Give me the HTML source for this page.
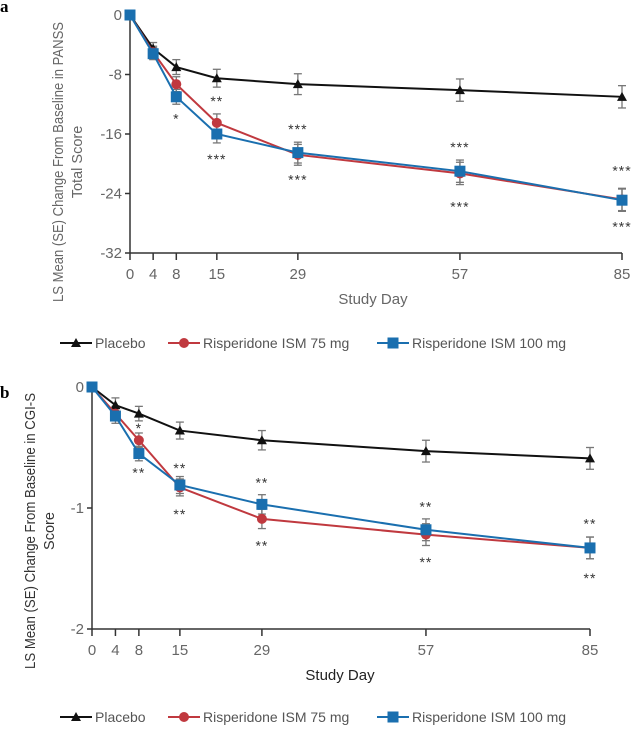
<!DOCTYPE html>
<html><head><meta charset="utf-8">
<style>
body{margin:0;background:#fff;width:632px;height:725px;overflow:hidden}
svg text{font-family:"Liberation Sans",sans-serif}
</style></head>
<body>
<svg id="root" width="632" height="725" viewBox="0 0 632 725">
<text x="0" y="12" font-weight="bold" font-size="17" style="font-family:'Liberation Serif',serif">a</text>
<text x="0" y="398" font-weight="bold" font-size="17" style="font-family:'Liberation Serif',serif">b</text>
<g id="panelA"></g>
<g id="panelB"></g>
</svg>
<script>
const days = [0, 4, 8, 15, 29, 57, 85];
const aPlacebo = [0, -4.5, -7, -8.5, -9.3, -10.1, -11];
const aRisp75 = [0, -5, -9.3, -14.5, -18.8, -21.3, -24.8];
const aRisp100 = [0, -5.2, -11, -16, -18.5, -21, -24.9];
const aErr = [0, 0.8, 1.0, 1.2, 1.4, 1.5, 1.5];
const aTicks = [0, -8, -16, -24, -32];
const aStarDays = [8, 15, 15, 29, 29, 57, 57, 85, 85];
const aStarVals = [-13.8, -11.4, -19.2, -15.2, -22, -17.6, -25.6, -20.8, -28.3];
const aStarText = ["*", "**", "***", "***", "***", "***", "***", "***", "***"];

const bPlacebo = [0, -0.15, -0.22, -0.36, -0.44, -0.53, -0.59];
const bRisp75 = [0, -0.22, -0.44, -0.83, -1.09, -1.22, -1.33];
const bRisp100 = [0, -0.24, -0.55, -0.81, -0.97, -1.18, -1.33];
const bErr = [0, 0.06, 0.06, 0.07, 0.08, 0.09, 0.09];
const bTicks = [0, -1, -2];
const bStarDays = [8, 8, 15, 15, 29, 29, 57, 57, 85, 85];
const bStarVals = [-0.33, -0.7, -0.66, -1.04, -0.78, -1.3, -0.98, -1.44, -1.12, -1.57];
const bStarText = ["*", "**", "**", "**", "**", "**", "**", "**", "**", "**"];

const NS = "http://www.w3.org/2000/svg";
function mk(parent, tag, attrs, txt){
  const e = document.createElementNS(NS, tag);
  for (const k in attrs) e.setAttribute(k, attrs[k]);
  if (txt !== undefined) e.textContent = txt;
  parent.appendChild(e);
  return e;
}
const colors = {p:"#111", r:"#c0393f", b:"#1a6faf"};

function marker(g, kind, x, y, col){
  let m;
  if (kind === "tri") m = mk(g, "path", {d:`M${x} ${y-5}L${x+5} ${y+4}L${x-5} ${y+4}Z`, fill:col});
  else if (kind === "circ") m = mk(g, "circle", {cx:x, cy:y, r:5, fill:col});
  else m = mk(g, "rect", {x:x-5.5, y:y-5.5, width:11, height:11, fill:col});
  return m;
}

function draw(cfg){
  const g = document.getElementById(cfg.id);
  const X = d => cfg.x0 + (cfg.x1 - cfg.x0) * d / 85;
  const Y = v => cfg.y0 + (cfg.yb - cfg.y0) * (v / cfg.ymin);
  const ya = mk(g, "line", {x1:cfg.x0, y1:cfg.y0, x2:cfg.x0, y2:cfg.yb, stroke:"#333", "stroke-width":1.5});
  
  
  const xa = mk(g, "line", {x1:cfg.x0, y1:cfg.yb, x2:cfg.x1, y2:cfg.yb, stroke:"#333", "stroke-width":1.5});
  
  
  cfg.ticks.forEach(t => {
    mk(g, "line", {x1:cfg.x0-5, y1:Y(t), x2:cfg.x0, y2:Y(t), stroke:"#333", "stroke-width":1.5});
    const tl = mk(g, "text", {x:cfg.x0-8, y:Y(t)+5, "text-anchor":"end", "font-size":15, fill:"#666"}, String(t));
    
    
  });
  days.forEach(d => {
    mk(g, "line", {x1:X(d), y1:cfg.yb, x2:X(d), y2:cfg.yb+7, stroke:"#333", "stroke-width":1.5});
    const tl = mk(g, "text", {x:X(d), y:cfg.yb+26, "text-anchor":"middle", "font-size":15, fill:"#666"}, String(d));
    
    
  });
  const xt = mk(g, "text", {x:cfg.xtx, y:cfg.yb+51, "text-anchor":"middle", "font-size":15, fill:cfg.xtc}, "Study Day");
  
  
  cfg.ytitle.forEach((line, i) => {
    const attrs = {x:0, y:0, "text-anchor":"middle", "font-size":14.5, fill:cfg.ytc,
      transform:`translate(${cfg.ytx[i]},${cfg.ytcy}) rotate(-90)`};
    if (i === 0) { attrs.textLength = cfg.ytlen; attrs.lengthAdjust = "spacingAndGlyphs"; }
    const t = mk(g, "text", attrs, line);
    
    
  });
  const series = [[cfg.p, "p", "tri", "placebo"], [cfg.r, "r", "circ", "risperidone-75mg"], [cfg.b, "b", "sq", "risperidone-100mg"]];
  series.forEach(s => {
    s[0].forEach((v, i) => {
      if (i === 0) return;
      const e = cfg.err[i], x = X(days[i]);
      const eg = mk(g, "g", {stroke:"#777", "stroke-width":1.3});
      
      
      mk(eg, "line", {x1:x, y1:Y(v-e), x2:x, y2:Y(v+e)});
      mk(eg, "line", {x1:x-4, y1:Y(v-e), x2:x+4, y2:Y(v-e)});
      mk(eg, "line", {x1:x-4, y1:Y(v+e), x2:x+4, y2:Y(v+e)});
    });
  });
  series.forEach(s => {
    const pts = s[0].map((v, i) => X(days[i]) + "," + Y(v)).join(" ");
    const pl = mk(g, "polyline", {points:pts, fill:"none", stroke:colors[s[1]], "stroke-width":2});
    
    
    s[0].forEach((v, i) => {
      const m = marker(g, s[2], X(days[i]), Y(v), colors[s[1]]);
      
      
    });
  });
  cfg.sd.forEach((d, i) => {
    const t = mk(g, "text", {x:X(d), y:Y(cfg.sv[i])+6, "text-anchor":"middle", "font-size":14, "letter-spacing":1, fill:"#333"}, cfg.st[i]);
    
    
  });
  const lg = mk(g, "g", {});
  
  
  const items = [["Placebo", "p", "tri", 60], ["Risperidone ISM 75 mg", "r", "circ", 168], ["Risperidone ISM 100 mg", "b", "sq", 377]];
  items.forEach(it => {
    const eg = mk(lg, "g", {});
    
    
    mk(eg, "line", {x1:it[3], y1:cfg.ly, x2:it[3]+32, y2:cfg.ly, stroke:colors[it[1]], "stroke-width":2});
    marker(eg, it[2], it[3]+16, cfg.ly, colors[it[1]]);
    mk(eg, "text", {x:it[3]+35, y:cfg.ly+5, "font-size":14, fill:"#555"}, it[0]);
  });
}

draw({id:"panelA", x0:130, x1:622, y0:15, yb:253, ymin:-32, ticks:aTicks,
  p:aPlacebo, r:aRisp75, b:aRisp100, err:aErr, sd:aStarDays, sv:aStarVals, st:aStarText,
  ytitle:["LS Mean (SE) Change From Baseline in PANSS", "Total Score"], ytx:[63, 82], ytcy:162, ytlen:280, ytc:"#666",
  xtx:373, xtc:"#666", ly:343});
draw({id:"panelB", x0:92, x1:590, y0:387, yb:629, ymin:-2, ticks:bTicks,
  p:bPlacebo, r:bRisp75, b:bRisp100, err:bErr, sd:bStarDays, sv:bStarVals, st:bStarText,
  ytitle:["LS Mean (SE) Change From  Baseline in CGI-S", "Score"], ytx:[35, 54], ytcy:531, ytlen:276, ytc:"#333",
  xtx:340, xtc:"#222", ly:717});
</script>
</body></html>
